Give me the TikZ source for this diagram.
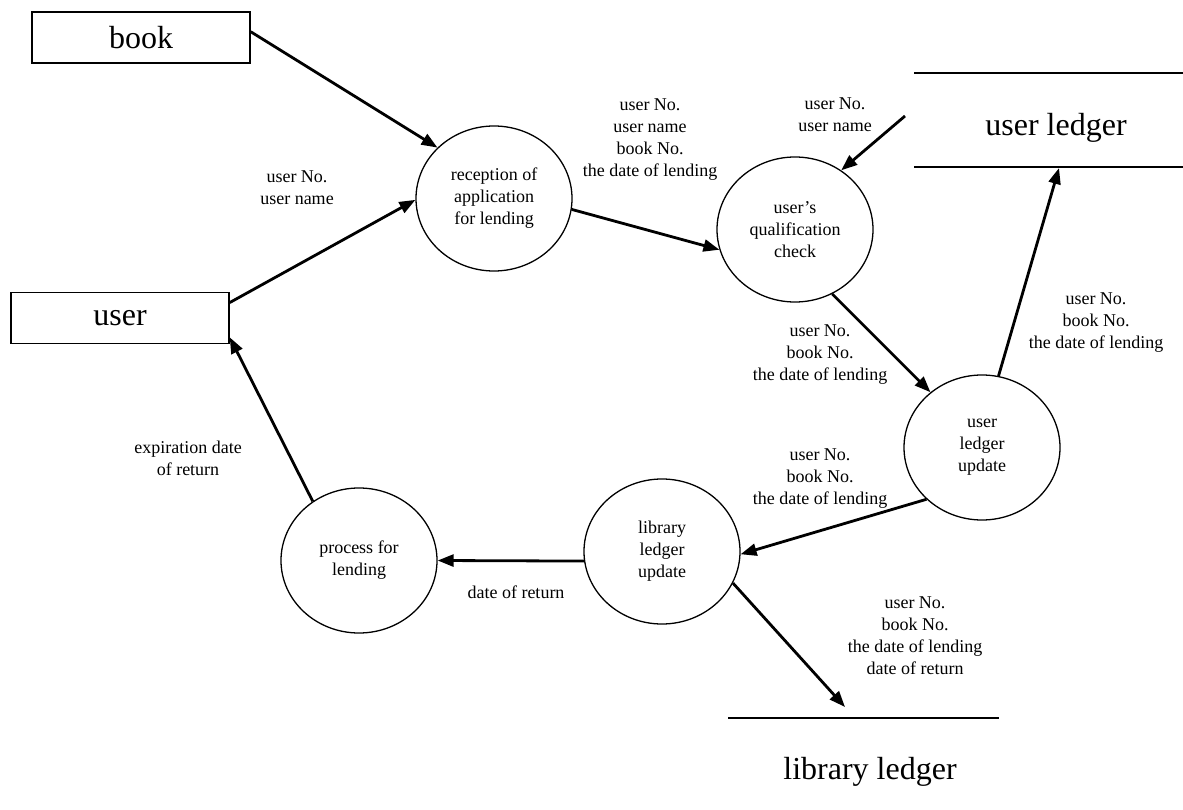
\documentclass[tikz,border=0pt]{standalone}
\usepackage{fontspec}
\setmainfont{Liberation Serif}
\usetikzlibrary{arrows.meta,shapes.geometric}
\begin{document}
\begin{tikzpicture}[x=1pt,y=-1pt,
  proc/.style={ellipse,draw,line width=1.3pt,minimum width=156pt,minimum height=145pt,inner sep=0pt,align=center,font=\fontsize{18}{22}\selectfont},
  ext/.style={rectangle,draw,line width=1.5pt,minimum width=218pt,minimum height=51pt,inner sep=0pt,font=\fontsize{32}{38}\selectfont},
  storetext/.style={inner sep=0pt,font=\fontsize{32}{38}\selectfont},
  lbl/.style={align=center,font=\fontsize{18}{22}\selectfont,inner sep=0pt},
  flow/.style={line width=2.8pt,-{Triangle[length=16pt,width=12pt]}},
  storeline/.style={line width=1.5pt}
]
\useasboundingbox (0,0) rectangle (1183,810);

% external entities
\node[ext] (book) at (141,37.5) {book};
\node[ext] (user) at (120,318) {user};

% processes
\node[proc] (c1) at (494,198.5) {reception of\\application\\for lending};
\node[proc] (c2) at (795,229.5) {user's\\qualification\\check};
\node[proc] (c3) at (982,447.5) {user\\ledger\\update};
\node[proc] (c4) at (662,551.5) {library\\ledger\\update};
\node[proc] (c5) at (359,560.5) {process for\\lending};

% data stores
\node[storetext] (ul) at (1056,128) {user ledger};
\coordinate (ult1) at (914,73);
\coordinate (ult2) at (1183,73);
\coordinate (ulb1) at (914,167);
\coordinate (ulb2) at (1183,167);
\draw[storeline] (ult1) -- (ult2);
\draw[storeline] (ulb1) -- (ulb2);

\node[storetext] (ll) at (870,772) {library ledger};
\coordinate (ll1) at (728,718);
\coordinate (ll2) at (999,718);
\draw[storeline] (ll1) -- (ll2);

% free ends
\coordinate (ulsrc) at (905,116);
\coordinate (ulin) at (1059,168);
\coordinate (llin) at (845,707);

% flows
\draw[flow] (book.3) -- (c1.138);
\draw[flow] (user.8) -- (c1.181);
\draw[flow] (c1.352) -- (c2.195);
\draw[flow] (ulsrc) -- (c2.52);
\draw[flow] (c2.300) -- (c3.133);
\draw[flow] (c3.77) -- (ulin);
\draw[flow] (c3.223) -- (c4.358);
\draw[flow] (c4.187) -- (c5.0);
\draw[flow] (c5.128) -- (user.350);
\draw[flow] (c4.336) -- (llin);

% labels
\node[lbl] (l1) at (297,188) {user No.\\user name};
\node[lbl] (l2) at (650,140) {user No.\\user name\\book No.\\the date of lending};
\node[lbl] (l3) at (835,115) {user No.\\user name};
\node[lbl] (l4) at (820,355) {user No.\\book No.\\the date of lending};
\node[lbl] (l5) at (1096,323) {user No.\\book No.\\the date of lending};
\node[lbl] (l6) at (820,479) {user No.\\book No.\\the date of lending};
\node[lbl] (l7) at (188,458) {expiration date\\of return};
\node[lbl] (l8) at (516,592) {date of return};
\node[lbl] (l9) at (915,636) {user No.\\book No.\\the date of lending\\date of return};
\end{tikzpicture}
\end{document}
